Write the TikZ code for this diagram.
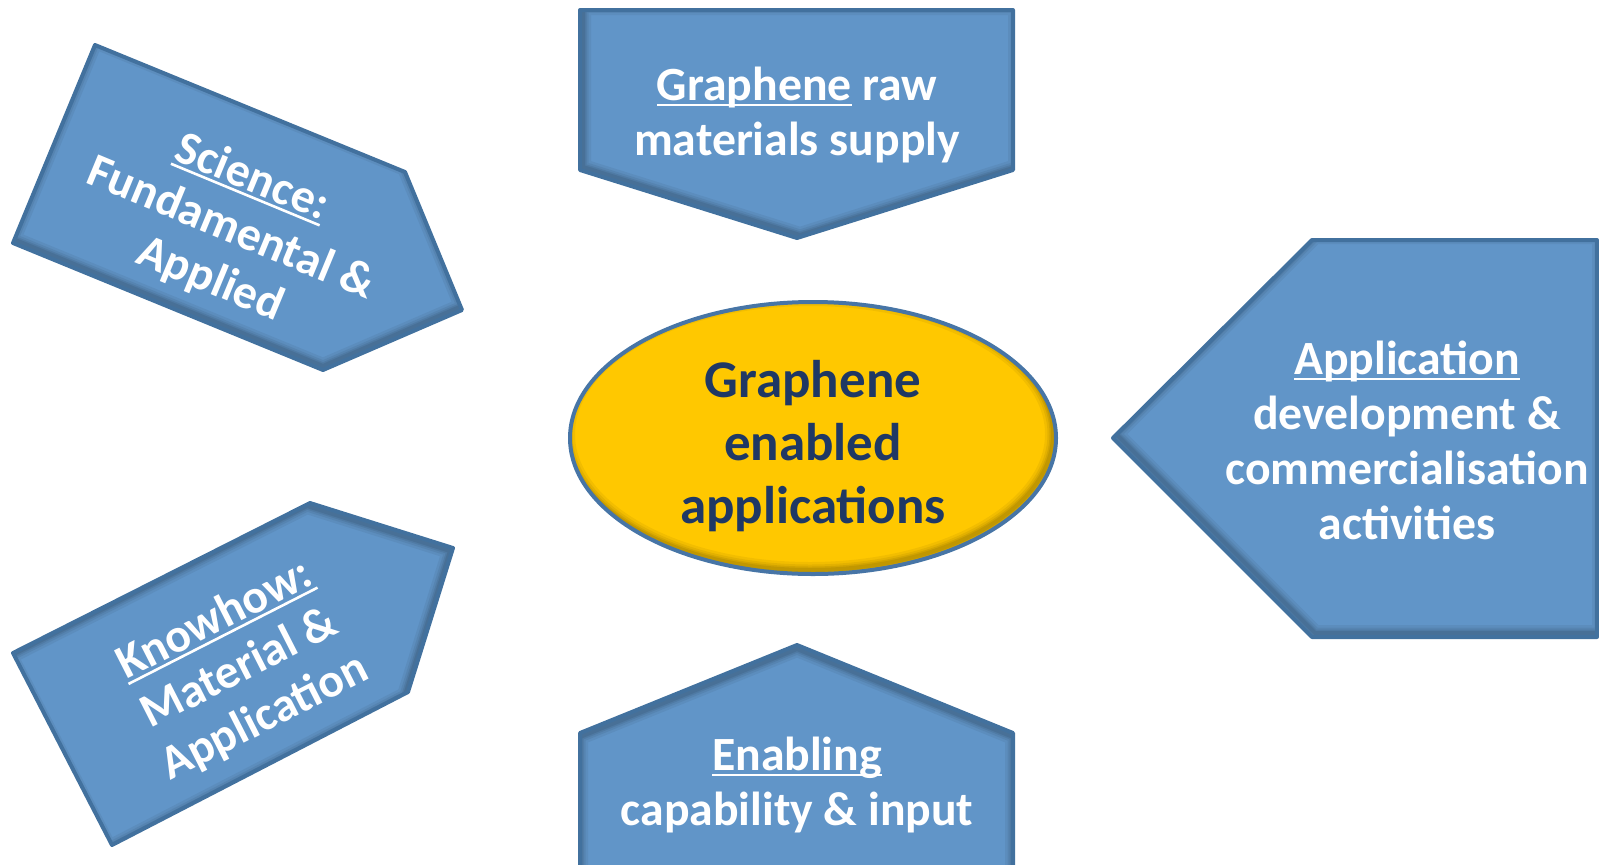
\documentclass[tikz,border=0pt]{standalone}
\usepackage{fontspec}
\setmainfont{Carlito}
\definecolor{boxfill}{RGB}{97,149,200}
\definecolor{boxedge}{RGB}{66,113,158}
\definecolor{hubfill}{RGB}{255,200,0}
\definecolor{hubedge}{RGB}{71,117,166}
\definecolor{hubtext}{RGB}{31,56,100}
% underline sitting just below the baseline, crossing descenders
\newlength\ulwidth
\newcommand\ulword[1]{\settowidth\ulwidth{#1}\rlap{\rule[-6pt]{\ulwidth}{2.6pt}}#1}
% soft inner shadow: shifted outline strokes, clipped to the shape
\newcommand\innershade[2]{%
  \begin{scope}
    \clip #1;
    \foreach \w/\o in {16/0.05,11/0.06,7/0.07,4/0.08} {
      \draw[line width=\w pt, black, opacity=\o, shift={#2}] #1;
    }
  \end{scope}}
\tikzset{
  panel/.style={fill=boxfill, draw=boxedge, line width=4pt, line join=round},
  paneltext/.style={text=white, align=center, inner sep=0pt,
    font=\fontsize{47.7}{55}\selectfont\bfseries},
  hubtxt/.style={text=hubtext, align=center, inner sep=0pt,
    font=\fontsize{53}{63}\selectfont\bfseries},
}
\begin{document}
\begin{tikzpicture}[x=1pt, y=-1pt]
\useasboundingbox (0,0) rectangle (1599,865);
\clip (0,0) rectangle (1599,865);

% panel outlines
\def\toppanel{(580,10) -- (1013,10) -- (1013,170) -- (797,238) -- (580,170) -- cycle}
\def\bottompanel{(580,880) -- (580,733) -- (797,645) -- (1013,733) -- (1013,880) -- cycle}
\def\rightpanel{(1113,438) -- (1312,240) -- (1597,240) -- (1597,637) -- (1312,637) -- cycle}
\def\sciencepanel{(95,45) -- (405,172) -- (462,310) -- (323,370) -- (13,243) -- cycle}
\def\knowpanel{(13,653) -- (310,503) -- (453,548) -- (408,692) -- (112,845) -- cycle}
\def\hubshape{(813,438) ellipse [x radius=243, y radius=136]}

\fill[boxfill] \toppanel;      \innershade{\toppanel}{(3,-3)}
\draw[panel, fill=none] \toppanel;
\fill[boxfill] \bottompanel;   \innershade{\bottompanel}{(0,4)}
\draw[panel, fill=none] \bottompanel;
\fill[boxfill] \rightpanel;    \innershade{\rightpanel}{(3,-4)}
\draw[panel, fill=none] \rightpanel;
\fill[boxfill] \sciencepanel;  \innershade{\sciencepanel}{(0,-4)}
\draw[panel, fill=none] \sciencepanel;
\fill[boxfill] \knowpanel;     \innershade{\knowpanel}{(-3,3)}
\draw[panel, fill=none] \knowpanel;
\fill[hubfill] \hubshape;      \innershade{\hubshape}{(-3,-4)}
\draw[draw=hubedge, line width=4pt] \hubshape;

% labels
\node[paneltext] (supply) at (797,115) {\ulword{Graphene} raw\\materials supply};
\node[paneltext] (enabling) at (797,785) {\ulword{Enabling}\\capability \& input};
\node[paneltext] (appdev) at (1407,440) {\ulword{Application}\\development \&\\commercialisation\\activities};
\node[paneltext, rotate=-22.5] (science) at (231,229) {\ulword{Science:}\\Fundamental \&\\Applied};
\node[paneltext, rotate=27] (knowhow) at (240,669) {\ulword{Knowhow:}\\Material \&\\Application};
\node[hubtxt] (hub) at (813,446) {Graphene\\enabled\\applications};
\end{tikzpicture}
\end{document}
